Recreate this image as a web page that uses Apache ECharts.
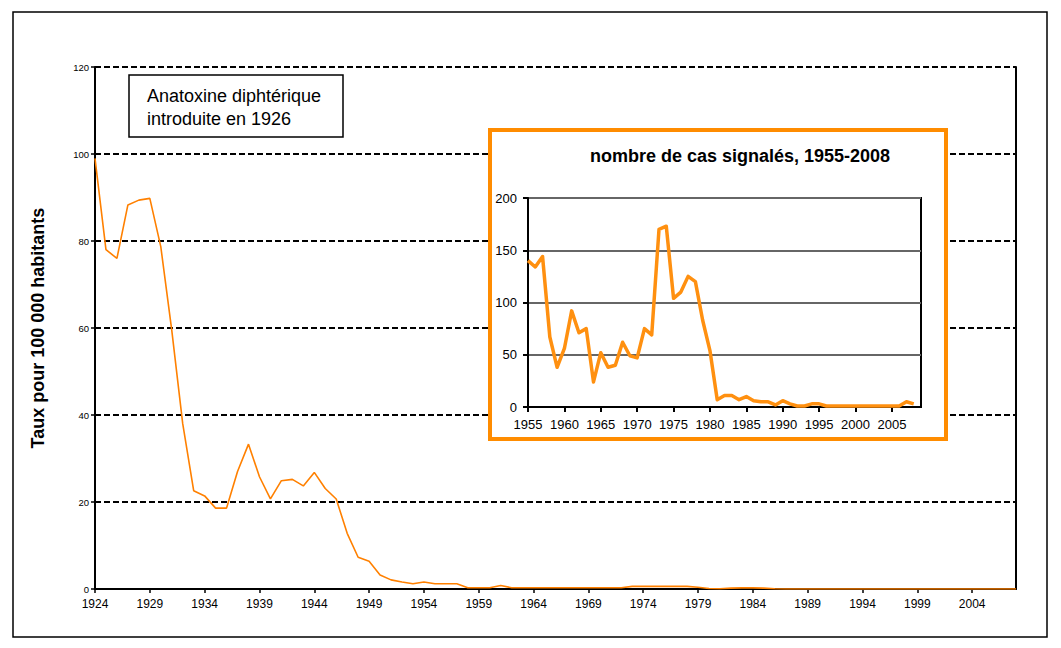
<!DOCTYPE html>
<html>
<head>
<meta charset="utf-8">
<script src="https://cdn.jsdelivr.net/npm/echarts@6/dist/echarts.min.js"></script>
<style>
html,body{margin:0;padding:0;background:#fff;}
#c{width:1061px;height:648px;}
</style>
</head>
<body>
<div id="c"></div>
<script>
// Main chart: rate per 100 000, 1924-2008
var mainYears = Array.from({length: 85}, function(_, i){ return String(1924 + i); });
var mainRates = [
  99, 78, 76, 88.3, 89.4, 89.8, 78.7, 59.5, 38, 22.6,
  21.4, 18.6, 18.6, 27, 33.3, 25.8, 20.7, 24.9, 25.2, 23.7,
  26.8, 23.1, 20.7, 12.8, 7.3, 6.4, 3.2, 2.1, 1.6, 1.2,
  1.6, 1.2, 1.2, 1.2, 0.3, 0.3, 0.3, 0.8, 0.3,
  0.3, 0.3, 0.3, 0.3, 0.3, 0.3, 0.3, 0.3, 0.3, 0.3,
  0.6, 0.6, 0.6, 0.6, 0.6, 0.6,
  0.4, 0.1, 0.05, 0.2, 0.25, 0.25, 0.2, 0.05,
  0.01, 0.01, 0.01, 0.01, 0.01, 0.01, 0.01, 0.01, 0.01, 0.01, 0.01,
  0.01, 0.01, 0.01, 0.01, 0.01, 0.01, 0.01, 0.01, 0.01, 0.01, 0.01
];
var mainYTicks = [0, 20, 40, 60, 80, 100, 120];

// Inset: reported cases, 1955-2008
var insetYears = Array.from({length: 54}, function(_, i){ return 1955 + i; });
var insetCases = [
  140, 134, 144, 67, 38, 56, 92, 71, 75, 24,
  52, 38, 40, 62, 49, 47, 75, 69, 170, 173,
  104, 110, 125, 120, 83, 54, 7, 11, 11, 7,
  10, 6, 5, 5, 2, 6, 3, 1, 1, 3,
  3, 1, 1, 1, 1, 1, 1, 1, 1, 1,
  1, 1, 5, 3
];
var insetTitle = 'nombre de cas signalés, 1955-2008';
var yName = 'Taux pour 100 000 habitants';
var noteLines = ['Anatoxine diphtérique', 'introduite en 1926'];

var FONT = '"Liberation Sans", Arial, sans-serif';
var chart = echarts.init(document.getElementById('c'), null, {renderer: 'svg'});

var option = {
  backgroundColor: '#fff',
  animation: false,
  textStyle: {fontFamily: FONT},
  grid: [
    {left: 95, top: 67, right: 45, bottom: 59, show: false},
    {left: 528, top: 198, width: 393, height: 209, show: true,
     borderColor: '#000', borderWidth: 2, backgroundColor: '#fff', z: 5}
  ],
  xAxis: [
    {
      type: 'category', gridIndex: 0, data: mainYears, boundaryGap: false,
      axisLine: {lineStyle: {color: '#000', width: 2}},
      axisTick: {interval: 4, length: 4, lineStyle: {color: '#000', width: 1.5}},
      axisLabel: {interval: 4, color: '#000', fontSize: 12, margin: 9, fontFamily: FONT},
      splitLine: {show: false}
    },
    {
      type: 'value', gridIndex: 1, min: 1955, max: 2009, interval: 5, z: 6,
      axisLine: {onZero: false, lineStyle: {color: '#000', width: 2}},
      axisTick: {length: 5, lineStyle: {color: '#000', width: 2}},
      axisLabel: {color: '#000', fontSize: 13, margin: 11, showMaxLabel: false, fontFamily: FONT,
        formatter: function(v){ return String(v); }},
      splitLine: {show: false}
    }
  ],
  yAxis: [
    {
      type: 'value', gridIndex: 0, min: mainYTicks[0], max: mainYTicks[mainYTicks.length - 1], interval: 20,
      name: yName, nameLocation: 'middle', nameGap: 48, nameRotate: 90,
      nameTextStyle: {color: '#000', fontSize: 18, fontWeight: 'bold', fontFamily: FONT},
      axisLine: {show: true, lineStyle: {color: '#000', width: 2}},
      axisTick: {show: true, length: 4, lineStyle: {color: '#000', width: 1.5}},
      axisLabel: {color: '#000', fontSize: 9.5, margin: 6, fontFamily: FONT},
      splitLine: {show: true, lineStyle: {color: '#000', width: 2, type: [6, 3]}}
    },
    {
      type: 'value', gridIndex: 0, position: 'right', min: 0, max: 120, interval: 20,
      axisLine: {show: true, lineStyle: {color: '#000', width: 2}},
      axisTick: {show: false}, axisLabel: {show: false}, splitLine: {show: false}
    },
    {
      type: 'value', gridIndex: 1, min: 0, max: 200, interval: 50, z: 6,
      axisLine: {show: true, lineStyle: {color: '#000', width: 2}},
      axisTick: {show: true, length: 5, lineStyle: {color: '#000', width: 2}},
      axisLabel: {color: '#000', fontSize: 13, margin: 11, fontFamily: FONT},
      splitLine: {show: true, lineStyle: {color: '#666', width: 2}}
    }
  ],
  series: [
    {
      type: 'line', xAxisIndex: 0, yAxisIndex: 0, data: mainRates,
      showSymbol: false, symbol: 'none',
      lineStyle: {color: '#FF8000', width: 1.6}, z: 2
    },
    {
      type: 'line', xAxisIndex: 1, yAxisIndex: 2,
      data: insetYears.map(function(y, i){ return [y, insetCases[i]]; }),
      showSymbol: false, symbol: 'none',
      lineStyle: {color: '#FF9010', width: 3.5, join: 'round'}, z: 8
    }
  ],
  graphic: [
    {type: 'rect', shape: {x: 13, y: 12, width: 1034, height: 625},
     style: {fill: 'none', stroke: '#000', lineWidth: 1.5}, z: 1, silent: true},
    {type: 'rect', shape: {x: 129, y: 75, width: 214, height: 62},
     style: {fill: '#fff', stroke: '#000', lineWidth: 1.5}, z: 3, silent: true},
    {type: 'text', x: 147, y: 84,
     style: {text: noteLines.join('\n'), fill: '#000', font: '18px ' + FONT, lineHeight: 23},
     z: 4, silent: true},
    {type: 'rect', shape: {x: 490, y: 130, width: 456, height: 309},
     style: {fill: '#fff', stroke: '#FF8C00', lineWidth: 4}, z: 3, silent: true},
    {type: 'text', x: 740, y: 156,
     style: {text: insetTitle, fill: '#000', font: 'bold 18px ' + FONT, align: 'center', verticalAlign: 'middle'},
     z: 4, silent: true}
  ]
};
chart.setOption(option);
</script>
</body>
</html>
